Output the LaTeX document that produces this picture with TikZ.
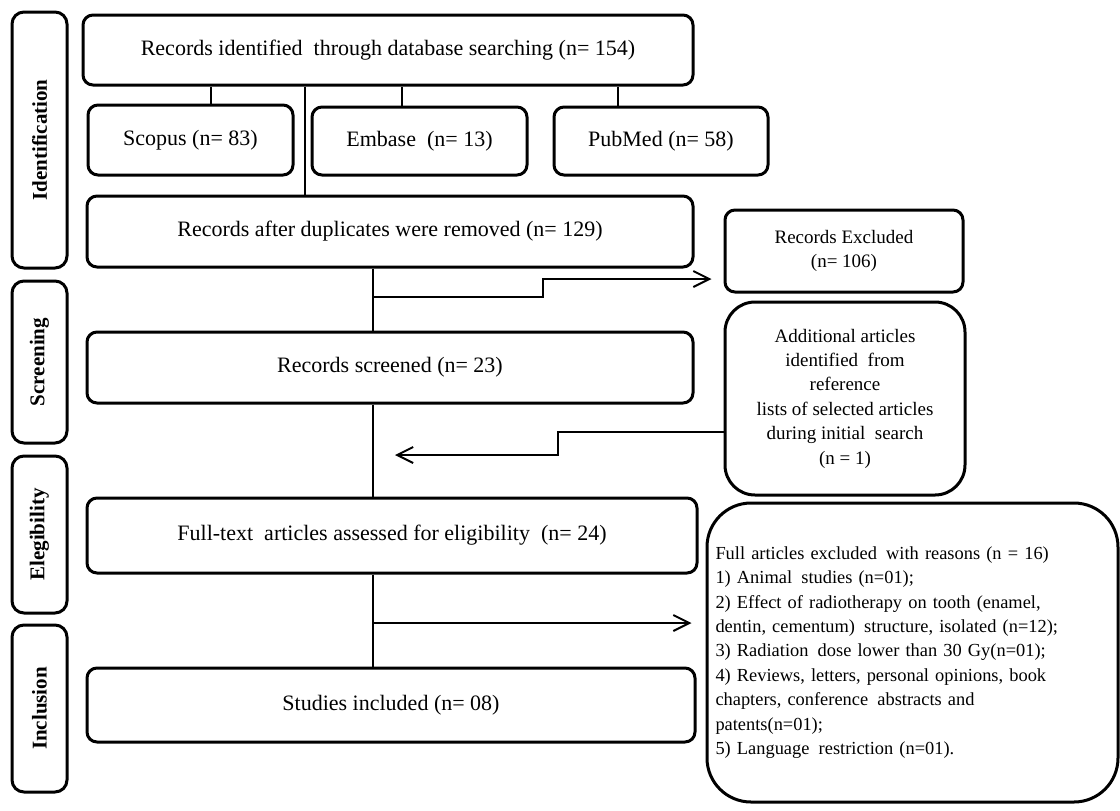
\documentclass[tikz,border=0pt]{standalone}
\usepackage{fontspec}
\setmainfont{Liberation Serif}
\usetikzlibrary{arrows.meta}
\tikzset{
  phasebox/.style={draw,line width=1.5pt,rounded corners=6pt,rotate=90,
    minimum height=27.5pt,inner sep=1pt,font=\bfseries\fontsize{10.5}{12}\selectfont},
  flowbox/.style={draw,line width=1.5pt,rounded corners=5pt,align=center,
    inner sep=2pt,font=\fontsize{11}{13}\selectfont},
  sidebox/.style={flowbox,font=\fontsize{9.5}{12.2}\selectfont},
  link/.style={line width=1pt},
  arr/.style={link,-{Straight Barb[length=8pt,width=8pt,line width=1pt]}}
}
\begin{document}
\begin{tikzpicture}[x=0.5pt,y=-0.5pt]
\useasboundingbox (0,0) rectangle (1120,810);

% phases
\node[phasebox,minimum width=128pt] (ident) at (39.5,140) {Identification};
\node[phasebox,minimum width=81pt] (screen) at (39.5,362) {Screening};
\node[phasebox,minimum width=78.5pt] (elig) at (39.5,534.5) {Elegibility};
\node[phasebox,minimum width=83.5pt] (incl) at (39.5,708.5) {Inclusion};

% main column
\node[flowbox,minimum width=305pt,minimum height=35pt] (records) at (388,50)
  {Records identified\enspace through database searching (n= 154)};
\node[flowbox,minimum width=102.5pt,minimum height=35pt] (scopus) at (190.5,140) {Scopus (n= 83)};
\node[flowbox,minimum width=107.5pt,minimum height=34pt] (embase) at (419.5,141) {Embase\enspace (n= 13)};
\node[flowbox,minimum width=107pt,minimum height=34pt] (pubmed) at (661,141) {PubMed (n= 58)};
\node[flowbox,minimum width=303pt,minimum height=35.5pt] (dupl) at (390,231.5)
  {Records after duplicates were removed (n= 129)};
\node[flowbox,minimum width=303pt,minimum height=35.5pt] (screened) at (390,367.5)
  {Records screened (n= 23)};
\node[flowbox,minimum width=305pt,minimum height=37.5pt] (fulltext) at (392,535.5)
  {Full-text\enspace articles assessed for eligibility\enspace (n= 24)};
\node[flowbox,minimum width=304pt,minimum height=37pt] (included) at (391,705)
  {Studies included (n= 08)};

% right column
\node[sidebox,minimum width=119pt,minimum height=41pt] (excluded) at (844,251)
  {Records Excluded\\(n= 106)};
\node[sidebox,rounded corners=15pt,minimum width=120pt,minimum height=96.5pt] (additional) at (845,398.5)
  {Additional articles\\identified\enspace from\\reference\\lists of selected articles\\during initial\enspace search\\(n = 1)};
\node[sidebox,font=\fontsize{9.2}{12.2}\selectfont,rounded corners=22pt,align=left,
  minimum width=205.5pt,minimum height=149.5pt,text width=197pt,inner sep=4pt] (fullexcl) at (912.5,652.5)
  {Full articles excluded\enspace with reasons (n = 16)\\
   1) Animal\enspace studies (n=01);\\
   2) Effect of radiotherapy on tooth (enamel,\\
   dentin, cementum)\enspace structure, isolated (n=12);\\
   3) Radiation\enspace dose lower than 30 Gy(n=01);\\
   4) Reviews, letters, personal opinions, book\\
   chapters, conference\enspace abstracts and\\
   patents(n=01);\\
   5) Language\enspace restriction (n=01).\\[3em]};

% connectors
\draw[link] ([xshift=10pt]scopus.north) -- ([xshift=10pt]scopus.north |- records.south);
\draw[link] ([xshift=-8.75pt]embase.north) -- ([xshift=-8.75pt]embase.north |- records.south);
\draw[link] ([xshift=-21.5pt]pubmed.north) -- ([xshift=-21.5pt]pubmed.north |- records.south);
\draw[link] ([xshift=-41.5pt]records.south) -- ([xshift=-41.5pt]records.south |- dupl.north);

\coordinate (trunk) at (373,0);
\draw[link] (trunk |- dupl.south) -- (trunk |- screened.north);
\draw[link] (trunk |- screened.south) -- (trunk |- fulltext.north);
\draw[link] (trunk |- fulltext.south) -- (trunk |- included.north);

\coordinate (exin) at ([xshift=-6pt,yshift=-14pt]excluded.west);
\draw[arr] (trunk |- 0,297) -- (543,297) -- (543,279) -- (exin);

\coordinate (adin) at (395,455);
\draw[arr] ([yshift=-16.75pt]additional.west) -- (558,432) -- (558,455) -- (adin);

\coordinate (fxin) at ([xshift=-7pt,yshift=14.75pt]fullexcl.west);
\draw[arr] (trunk |- fxin) -- (fxin);
\end{tikzpicture}
\end{document}
